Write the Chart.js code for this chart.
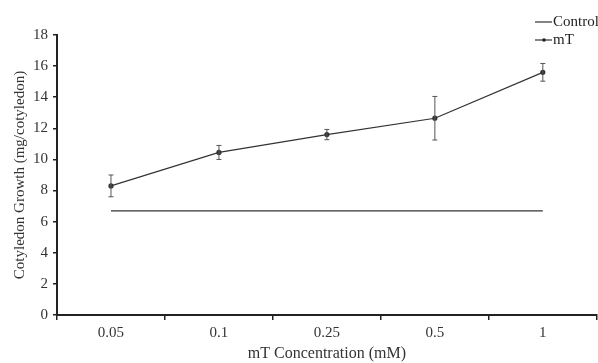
<!DOCTYPE html>
<html>
<head>
<meta charset="utf-8">
<script src="https://cdn.jsdelivr.net/npm/chart.js@4"></script>
<style>
  html, body { margin: 0; padding: 0; background: #fff; overflow: hidden; }
  #wrap { width: 600px; height: 363px; }
</style>
</head>
<body>
<div id="wrap"><canvas id="myChart"></canvas></div>
<script>
// Datos
const categorias = ["0.05", "0.1", "0.25", "0.5", "1"];
const valoresControl = [6.7, 6.7, 6.7, 6.7, 6.7];
const valoresMT = [8.3, 10.45, 11.6, 12.65, 15.6];
const erroresMT = [0.7, 0.45, 0.33, 1.4, 0.57];
const ticksY = [0, 2, 4, 6, 8, 10, 12, 14, 16, 18];

const fuente = "'Liberation Serif', 'DejaVu Serif', serif";
const colorLinea = "#333";

//? barras de error
const barrasError = {
  id: "barrasError",
  afterDatasetsDraw(chart) {
    const { ctx, scales } = chart;
    const meta = chart.getDatasetMeta(1);
    ctx.save();
    ctx.strokeStyle = "#555";
    ctx.lineWidth = 1;
    meta.data.forEach((pt, i) => {
      const x = pt.x;
      const yTop = scales.y.getPixelForValue(valoresMT[i] + erroresMT[i]);
      const yBot = scales.y.getPixelForValue(valoresMT[i] - erroresMT[i]);
      ctx.beginPath();
      ctx.moveTo(x, yTop); ctx.lineTo(x, yBot);
      ctx.moveTo(x - 2.5, yTop); ctx.lineTo(x + 2.5, yTop);
      ctx.moveTo(x - 2.5, yBot); ctx.lineTo(x + 2.5, yBot);
      ctx.stroke();
    });
    ctx.restore();
  }
};

//? leyenda
const leyenda = {
  id: "leyenda",
  afterDraw(chart) {
    const ctx = chart.ctx;
    ctx.save();
    ctx.strokeStyle = colorLinea;
    ctx.fillStyle = "#222";
    ctx.lineWidth = 1.2;
    ctx.font = "15px " + fuente;
    ctx.textBaseline = "middle";
    // Control
    ctx.beginPath(); ctx.moveTo(535, 22); ctx.lineTo(552, 22); ctx.stroke();
    ctx.fillText("Control", 553, 22);
    // mT
    ctx.beginPath(); ctx.moveTo(535, 40); ctx.lineTo(552, 40); ctx.stroke();
    ctx.beginPath(); ctx.arc(544, 40, 1.8, 0, Math.PI * 2); ctx.fill();
    ctx.fillText("mT", 553, 40);
    ctx.restore();
  }
};

const data = {
  labels: categorias,
  datasets: [
    {
      label: "Control",
      data: valoresControl,
      borderColor: colorLinea,
      borderWidth: 1.2,
      pointRadius: 0,
      fill: false,
    },
    {
      label: "mT",
      data: valoresMT,
      borderColor: colorLinea,
      backgroundColor: colorLinea,
      borderWidth: 1.2,
      pointRadius: 2,
      pointHoverRadius: 2,
      fill: false,
    },
  ],
};

new Chart(document.getElementById("myChart"), {
  type: "line",
  data: data,
  plugins: [barrasError, leyenda],
  options: {
    responsive: true,
    maintainAspectRatio: false,
    animation: false,
    layout: { padding: { top: 35, right: 0, left: 0, bottom: 0 } },
    plugins: { legend: { display: false }, tooltip: { enabled: false } },
    scales: {
      x: {
        offset: true,
        afterFit(scale) { scale.height = 48; },
        grid: { offset: true, drawOnChartArea: false, drawTicks: true, tickLength: 5, color: "#222", lineWidth: 1.5 },
        border: { color: "#222", width: 2 },
        ticks: { color: "#333", font: { family: fuente, size: 15 }, padding: 4 },
        title: { display: true, text: "mT Concentration (mM)", color: "#333", font: { family: fuente, size: 16 }, padding: { top: 0, bottom: 0 } },
      },
      y: {
        min: 0,
        max: 18,
        afterFit(scale) { scale.width = 57; },
        afterBuildTicks(scale) { scale.ticks = ticksY.map(v => ({ value: v })); },
        grid: { drawOnChartArea: false, drawTicks: true, tickLength: 4, color: "#222", lineWidth: 1.5 },
        border: { color: "#222", width: 2 },
        ticks: { color: "#333", font: { family: fuente, size: 15 }, padding: 5 },
        title: { display: true, text: "Cotyledon Growth (mg/cotyledon)", color: "#333", font: { family: fuente, size: 15 }, padding: { top: 11, bottom: 0 } },
      },
    },
  },
});
</script>
</body>
</html>
